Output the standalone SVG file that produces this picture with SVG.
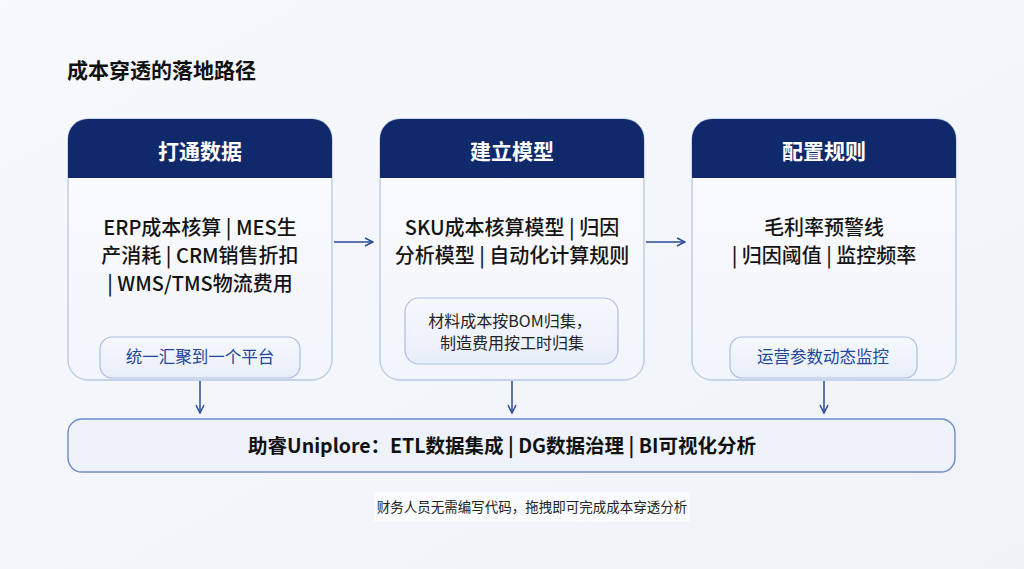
<svg xmlns="http://www.w3.org/2000/svg" width="1024" height="569" viewBox="0 0 1024 569">
<defs>
<linearGradient id="bg" x1="0" y1="0" x2="1" y2="1">
<stop offset="0" stop-color="#f7f9fc"/>
<stop offset="1" stop-color="#eff3f8"/>
</linearGradient>
<linearGradient id="cardfill" x1="0" y1="0" x2="0" y2="1">
<stop offset="0" stop-color="#fbfcfe"/>
<stop offset="1" stop-color="#f2f5fb"/>
</linearGradient>
<linearGradient id="subfill" x1="0" y1="0" x2="0" y2="1">
<stop offset="0" stop-color="#f6f8fd"/>
<stop offset="1" stop-color="#e8eef9"/>
</linearGradient>
<marker id="arr" viewBox="0 0 10 10" refX="9" refY="5" markerWidth="10" markerHeight="10" markerUnits="userSpaceOnUse" orient="auto">
<path d="M1,1 L9,5 L1,9" fill="none" stroke="#2a4a96" stroke-width="1.5"/>
</marker>
<clipPath id="c1"><rect x="68" y="119" width="264" height="261" rx="20"/></clipPath>
<clipPath id="c2"><rect x="380" y="119" width="264" height="261" rx="20"/></clipPath>
<clipPath id="c3"><rect x="692" y="119" width="264" height="261" rx="20"/></clipPath>
</defs>
<style>
.cjk{font-family:"Noto Sans CJK SC","Noto Sans",sans-serif}
.title{font-size:21px;font-weight:700;fill:#111}
.head{font-size:21px;font-weight:700;fill:#ffffff}
.body{font-size:20px;font-weight:500;fill:#141414}
.sub{font-size:16.5px;font-weight:400;fill:#22469a}
.sub2{font-size:16px;font-weight:400;fill:#222}
.card{fill:url(#cardfill);stroke:#b9c7e4;stroke-width:1.3}
.hdr{fill:#10296b}
.subbox{fill:url(#subfill);stroke:#aebfe2;stroke-width:1.2}
.conn{stroke:#2a4a96;stroke-width:1.5;fill:none}
.bar{fill:#edf2fb;stroke:#6f8cc6;stroke-width:1.4}
.bartxt{font-size:19.5px;font-weight:700;fill:#111}
.foot{font-size:13.5px;font-weight:400;fill:#222}
</style>
<rect x="0" y="0" width="1024" height="569" fill="url(#bg)"/>
<text class="cjk title" x="67" y="78">成本穿透的落地路径</text>

<g id="node-1">
<rect class="card" x="68" y="119" width="264" height="261" rx="20"/>
<rect class="hdr" x="68" y="119" width="264" height="59" clip-path="url(#c1)"/>
<text class="cjk head" x="200" y="159" text-anchor="middle">打通数据</text>
<text class="cjk body" x="200" y="235" text-anchor="middle">ERP成本核算 | MES生</text>
<text class="cjk body" x="200" y="263" text-anchor="middle">产消耗 | CRM销售折扣</text>
<text class="cjk body" x="200" y="291" text-anchor="middle">| WMS/TMS物流费用</text>
<rect class="subbox" x="100" y="337" width="200" height="41" rx="12"/>
<text class="cjk sub" x="200" y="363" text-anchor="middle">统一汇聚到一个平台</text>
</g>

<g id="node-2">
<rect class="card" x="380" y="119" width="264" height="261" rx="20"/>
<rect class="hdr" x="380" y="119" width="264" height="59" clip-path="url(#c2)"/>
<text class="cjk head" x="512" y="159" text-anchor="middle">建立模型</text>
<text class="cjk body" x="512" y="235" text-anchor="middle">SKU成本核算模型 | 归因</text>
<text class="cjk body" x="512" y="263" text-anchor="middle">分析模型 | 自动化计算规则</text>
<rect class="subbox" x="405" y="298" width="213" height="66" rx="14"/>
<text class="cjk sub2" x="510" y="327" text-anchor="middle">材料成本按BOM归集，</text>
<text class="cjk sub2" x="512" y="349" text-anchor="middle">制造费用按工时归集</text>
</g>

<g id="node-3">
<rect class="card" x="692" y="119" width="264" height="261" rx="20"/>
<rect class="hdr" x="692" y="119" width="264" height="59" clip-path="url(#c3)"/>
<text class="cjk head" x="824" y="159" text-anchor="middle">配置规则</text>
<text class="cjk body" x="824" y="235" text-anchor="middle">毛利率预警线</text>
<text class="cjk body" x="824" y="263" text-anchor="middle">| 归因阈值 | 监控频率</text>
<rect class="subbox" x="730" y="337" width="187" height="41" rx="12"/>
<text class="cjk sub" x="823" y="363" text-anchor="middle">运营参数动态监控</text>
</g>

<g id="node-platform">
<rect class="bar" x="68" y="419" width="887" height="53" rx="14"/>
<text class="cjk bartxt" x="502" y="453" text-anchor="middle">助睿Uniplore：ETL数据集成 | DG数据治理 | BI可视化分析</text>
</g>

<g id="footer">
<rect x="374" y="492" width="316" height="30" fill="#ffffff" opacity="0.55"/>
<text class="cjk foot" x="532" y="512" text-anchor="middle">财务人员无需编写代码，拖拽即可完成成本穿透分析</text>
</g>

<g id="connectors">
<line class="conn" x1="334" y1="242" x2="373" y2="242" marker-end="url(#arr)"/>
<line class="conn" x1="646" y1="242" x2="685" y2="242" marker-end="url(#arr)"/>
<line class="conn" x1="200" y1="381" x2="200" y2="413" marker-end="url(#arr)"/>
<line class="conn" x1="512" y1="381" x2="512" y2="413" marker-end="url(#arr)"/>
<line class="conn" x1="824" y1="381" x2="824" y2="413" marker-end="url(#arr)"/>
</g>
</svg>
